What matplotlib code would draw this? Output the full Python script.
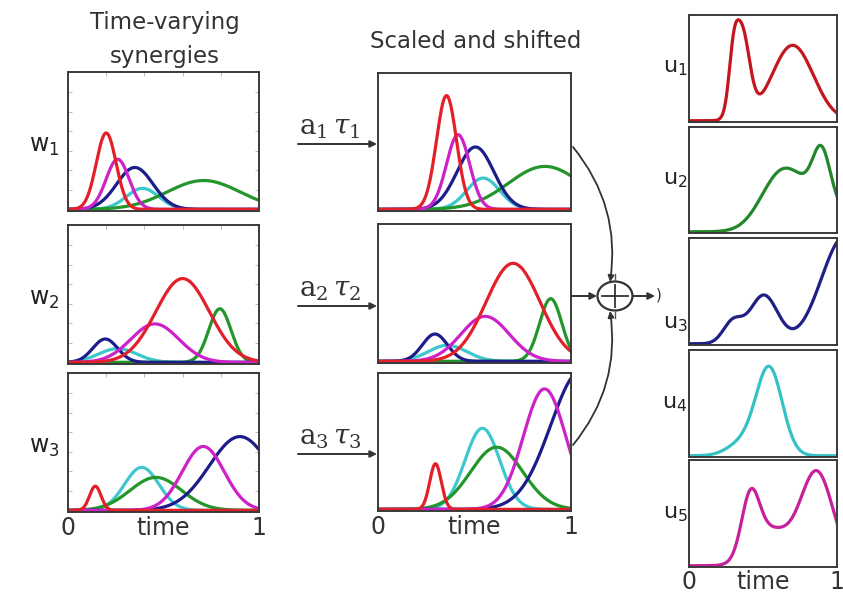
import numpy as np
import matplotlib
matplotlib.use("Agg")
import matplotlib.pyplot as plt
from matplotlib.patches import Ellipse, FancyArrowPatch

# ---------------- data ----------------
muscles = ["red", "green", "blue", "cyan", "magenta"]
colors = {"red": "#e3202a", "green": "#22962a", "blue": "#1c1c8a",
          "cyan": "#3cc8cc", "magenta": "#cc22c8"}
u_colors = {"red": "#c4161f", "green": "#23872a", "blue": "#1f1f86",
            "cyan": "#36c2c4", "magenta": "#c8209c"}

# each synergy: per muscle bump (amplitude, centre time, width)
w1_amp = [0.556, 0.21, 0.305, 0.153, 0.365]
w1_ctr = [0.20, 0.71, 0.35, 0.39, 0.26]
w1_wid = [0.052, 0.19, 0.095, 0.085, 0.06]

w2_amp = [0.61, 0.39, 0.17, 0.10, 0.28]
w2_ctr = [0.60, 0.795, 0.195, 0.26, 0.455]
w2_wid = [0.14, 0.058, 0.065, 0.10, 0.125]

w3_amp = [0.176, 0.24, 0.537, 0.313, 0.465]
w3_ctr = [0.143, 0.46, 0.90, 0.386, 0.708]
w3_wid = [0.03, 0.135, 0.16, 0.09, 0.11]

# scaling amplitudes and time shifts of each synergy
scale_a = [1.5, 1.17, 1.9]
shift_tau = [0.155, 0.10, 0.155]

syn_labels = [r"$\mathregular{w_1}$", r"$\mathregular{w_2}$", r"$\mathregular{w_3}$"]
at_labels = [r"$\mathrm{a}_1\,\tau_1$", r"$\mathrm{a}_2\,\tau_2$", r"$\mathrm{a}_3\,\tau_3$"]
u_labels = [r"$\mathregular{u_1}$", r"$\mathregular{u_2}$", r"$\mathregular{u_3}$",
            r"$\mathregular{u_4}$", r"$\mathregular{u_5}$"]
tick_labels = ["0", "time", "1"]

synergies = [(w1_amp, w1_ctr, w1_wid), (w2_amp, w2_ctr, w2_wid), (w3_amp, w3_ctr, w3_wid)]

t = np.linspace(0, 1, 500)


def bump(tt, a, c, s):
    return a * np.exp(-(tt - c) ** 2 / (2 * s ** 2))


draw_order = ["cyan", "green", "blue", "magenta", "red"]
LW = 2.3
INK = "#333333"

fig = plt.figure(figsize=(8.43, 5.93), dpi=100)
fig.patch.set_facecolor("white")


def fx(x):
    return x / 843


def fy(y):
    return 1 - y / 593


def add_ax(x0, x1, y0, y1):
    ax = fig.add_axes([fx(x0), fy(y1), fx(x1) - fx(x0), (y1 - y0) / 593])
    ax.set_xlim(0, 1)
    ax.set_ylim(-0.012, 1)
    for sp in ax.spines.values():
        sp.set_color("#3a3a3a")
        sp.set_linewidth(1.4)
    ax.set_xticks([])
    ax.set_yticks([])
    return ax


def time_axis(ax, pad):
    ax.set_xticks([0, 0.5, 1])
    ax.set_xticklabels(tick_labels, fontsize=17, color=INK)
    ax.tick_params(which="major", length=0, pad=pad)


left_box = [(72, 211), (225, 364), (373, 512)]
mid_box = [(73, 211), (224, 363), (373, 511)]
right_box = [(15, 122), (127, 233), (238, 345), (350, 457), (460, 567)]

# ---------------- left: synergies ----------------
for k, (amp, ctr, wid) in enumerate(synergies):
    ax = add_ax(68, 259, *left_box[k])
    for m in draw_order:
        i = muscles.index(m)
        ax.plot(t, bump(t, amp[i], ctr[i], wid[i]), color=colors[m], lw=LW,
                solid_capstyle="round")
    ax.set_xticks([0.2, 0.4, 0.6, 0.8], minor=True)
    ax.set_yticks(np.arange(0.14, 1.0, 0.143), minor=True)
    ax.tick_params(which="minor", direction="in", length=3, color="#b0b0b0",
                   top=True, right=True)
    ax.text(-0.045, 0.47, syn_labels[k], transform=ax.transAxes, fontsize=17,
            ha="right", va="center", color="#222222")
    if k == 2:
        time_axis(ax, 3)

# ---------------- middle: scaled and shifted ----------------
for k, (amp, ctr, wid) in enumerate(synergies):
    ax = add_ax(378, 571, *mid_box[k])
    for m in draw_order:
        i = muscles.index(m)
        ax.plot(t, scale_a[k] * bump(t - shift_tau[k], amp[i], ctr[i], wid[i]),
                color=colors[m], lw=LW, solid_capstyle="round")
    if k == 2:
        time_axis(ax, 3)

# ---------------- right: muscle activations ----------------
for i, m in enumerate(muscles):
    ax = add_ax(689, 837, *right_box[i])
    u = np.zeros_like(t)
    for k, (amp, ctr, wid) in enumerate(synergies):
        u = u + scale_a[k] * bump(t - shift_tau[k], amp[i], ctr[i], wid[i])
    ax.plot(t, u, color=u_colors[m], lw=LW)
    ax.text(-0.01, 0.5 if i != 2 else 0.2, u_labels[i], transform=ax.transAxes,
            fontsize=16, ha="right", va="center", color="#222222")
    if i == 4:
        time_axis(ax, 2)

# ---------------- overlay: titles, arrows, summation ----------------
ov = fig.add_axes([0, 0, 1, 1], zorder=10)
ov.set_xlim(0, 843)
ov.set_ylim(593, 0)
ov.axis("off")
ov.patch.set_alpha(0)

ov.text(165, 23, "Time-varying", ha="center", va="center", fontsize=16.5, color=INK)
ov.text(165, 56, "synergies", ha="center", va="center", fontsize=16.5, color=INK)
ov.text(476, 42, "Scaled and shifted", ha="center", va="center",
        fontsize=16.5, color=INK)

arrow_y = [144, 306, 454]
for k in range(3):
    ov.annotate("", xy=(377, arrow_y[k]), xytext=(298, arrow_y[k]),
                arrowprops=dict(arrowstyle="-|>", color=INK, lw=1.4,
                                mutation_scale=10, shrinkA=0, shrinkB=0))
    ov.text(299, arrow_y[k] - 3, at_labels[k], ha="left", va="bottom",
            fontsize=20, color=INK, math_fontfamily="dejavuserif")

cx, cy = 615, 296
ov.add_patch(Ellipse((cx, cy), 35, 29, fill=False, ec=INK, lw=1.6))
ov.plot([cx - 13, cx + 13], [cy, cy], color=INK, lw=1.3)
ov.plot([cx, cx], [cy - 11, cy + 11], color=INK, lw=1.3)
ov.plot([cx, cx], [cy - 22, cy - 16], color="#555555", lw=1.0)
ov.plot([cx, cx], [cy + 16, cy + 22], color="#555555", lw=1.0)

ov.annotate("", xy=(cx - 18, cy), xytext=(572, cy),
            arrowprops=dict(arrowstyle="-|>", color=INK, lw=1.4,
                            mutation_scale=10, shrinkA=0, shrinkB=0))
ov.annotate("", xy=(655, cy), xytext=(cx + 18, cy),
            arrowprops=dict(arrowstyle="-|>", color=INK, lw=1.4,
                            mutation_scale=10, shrinkA=0, shrinkB=0))
ov.text(656, cy - 1, ")", ha="left", va="center", fontsize=11, color=INK)

ov.add_patch(FancyArrowPatch((573, 147), (610, 282),
                             connectionstyle="arc3,rad=-0.22",
                             arrowstyle="-|>", mutation_scale=9,
                             color=INK, lw=1.3, shrinkA=0, shrinkB=0))
ov.add_patch(FancyArrowPatch((573, 445), (610, 311),
                             connectionstyle="arc3,rad=0.22",
                             arrowstyle="-|>", mutation_scale=9,
                             color=INK, lw=1.3, shrinkA=0, shrinkB=0))

fig.savefig("out.png", dpi=100, facecolor="white")
